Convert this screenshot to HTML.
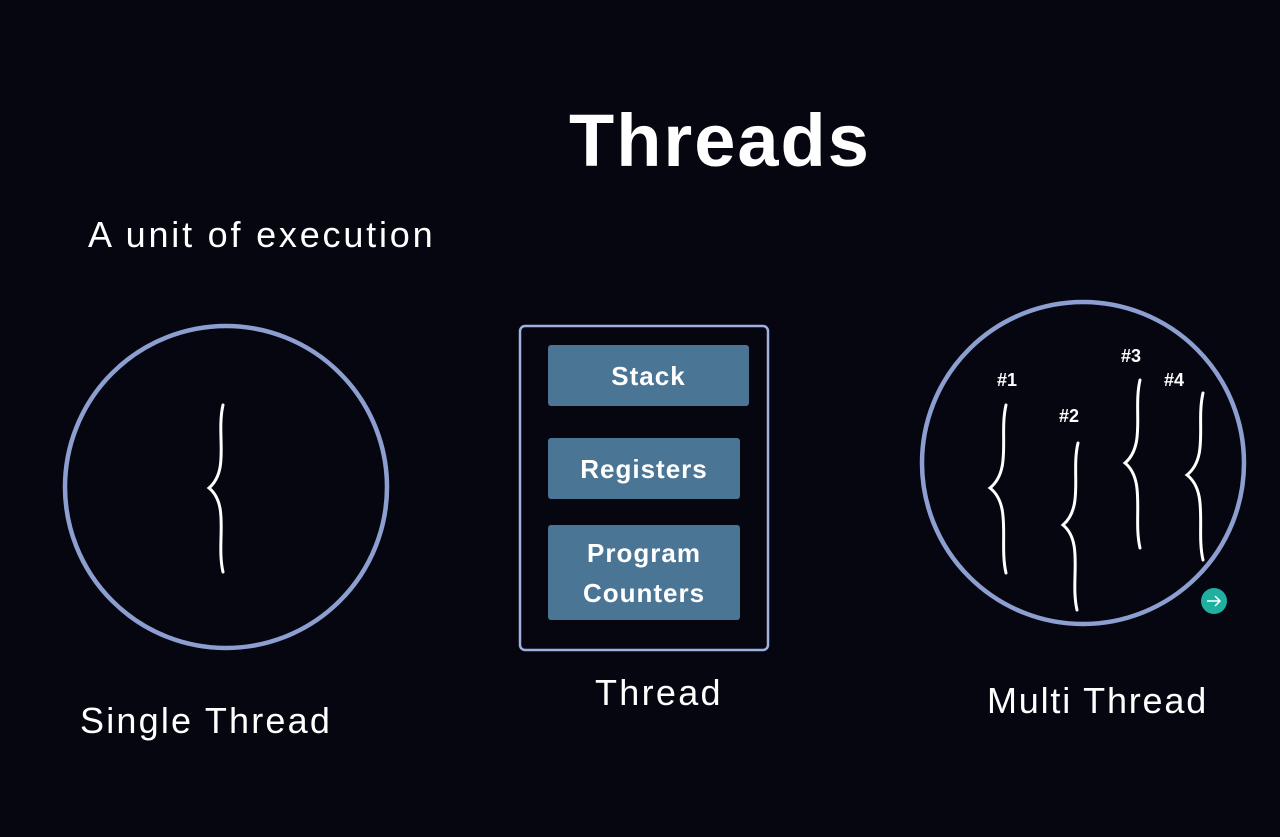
<!DOCTYPE html>
<html><head><style>
body{margin:0;width:1280px;height:837px;background:#05060f;overflow:hidden;position:relative;font-family:"Liberation Sans",sans-serif;color:#fff}
.t{position:absolute;white-space:nowrap}
.b{position:absolute;background:#4a7595;border-radius:3px;color:#fff;font-weight:bold;font-size:26px;letter-spacing:1px;display:flex;align-items:center;justify-content:center;text-align:center;line-height:40px}
</style></head><body>
<div class="t" style="left:569px;top:98px;font-size:74px;font-weight:bold;letter-spacing:2px">Threads</div>
<div class="t" style="left:88px;top:214px;font-size:36px;letter-spacing:2.8px">A unit of execution</div>
<div class="t" style="left:80px;top:700px;font-size:36px;letter-spacing:2.2px">Single Thread</div>
<div class="t" style="left:595px;top:672px;font-size:36px;letter-spacing:2.3px">Thread</div>
<div class="t" style="left:987px;top:680px;font-size:36px;letter-spacing:1.8px">Multi Thread</div>
<svg width="1280" height="837" style="position:absolute;left:0;top:0">
<g fill="none" stroke="#8c9fd0" stroke-width="4.5">
<circle cx="226" cy="487" r="161"/>
<circle cx="1083" cy="463" r="161"/>
</g>
<rect x="520" y="326" width="248" height="324" rx="5" fill="none" stroke="#a0b0e0" stroke-width="2.5"/>
<g fill="none" stroke="#fff" stroke-width="3" stroke-linecap="round">
<path d="M223,405 C216,435 230,470 209,488 C230,505 216,542 223,572"/>
<path d="M1006,405 C999,435 1012,470 990,488 C1012,505 999,543 1006,573"/>
<path d="M1078,443 C1071,472 1084,507 1063,525 C1084,542 1070,580 1077,610"/>
<path d="M1140,380 C1133,410 1146,445 1125,463 C1146,480 1133,518 1140,548"/>
<path d="M1203,393 C1196,423 1209,457 1187,475 C1209,492 1196,530 1203,560"/>
</g>
<g fill="#fff" font-family="Liberation Sans" font-weight="bold" font-size="18">
<text x="997" y="386">#1</text>
<text x="1059" y="422">#2</text>
<text x="1121" y="362">#3</text>
<text x="1164" y="386">#4</text>
</g>
<circle cx="1214" cy="601" r="13" fill="#1fb0a0"/>
<path d="M1207,601 H1220 M1215,596 L1220,601 L1215,606" stroke="#fff" stroke-width="1.5" fill="none"/>
</svg>
<div class="b" style="left:548px;top:345px;width:201px;height:61px">Stack</div>
<div class="b" style="left:548px;top:438px;width:192px;height:61px">Registers</div>
<div class="b" style="left:548px;top:525px;width:192px;height:95px">Program<br>Counters</div>
</body></html>
